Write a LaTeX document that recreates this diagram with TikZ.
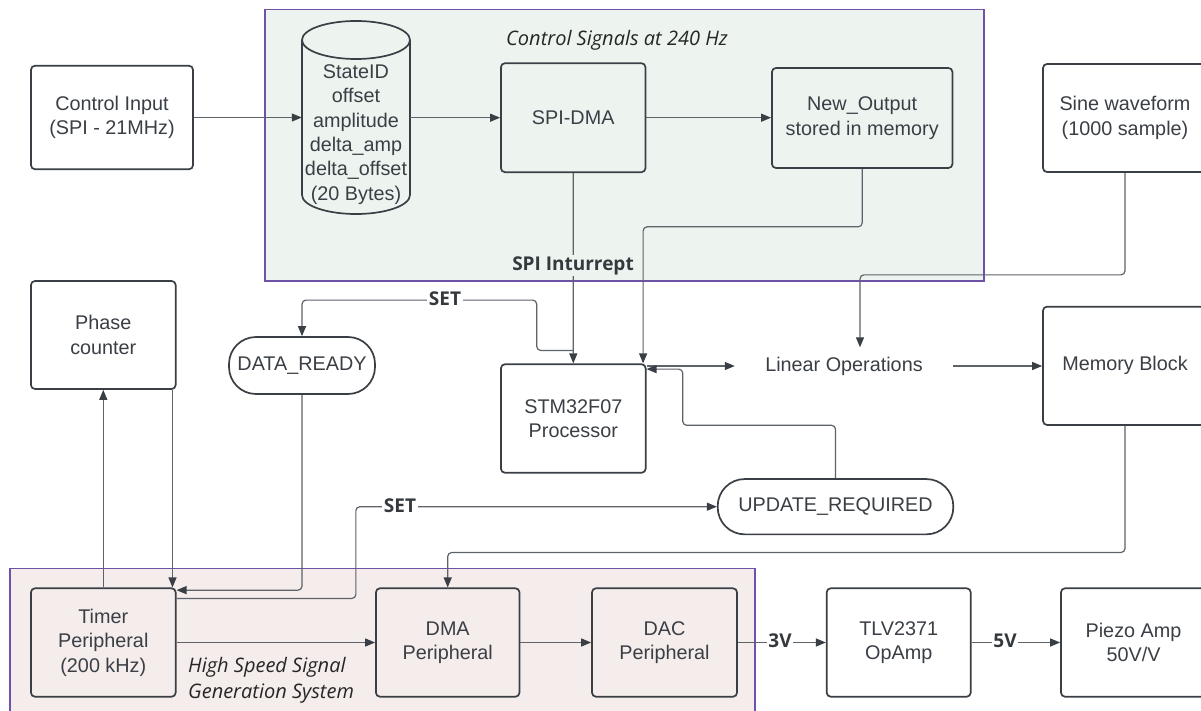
\documentclass[tikz,border=0pt]{standalone}
\usepackage{fontspec}
\setmainfont{Liberation Sans}
\newfontfamily\notefont{Open Sans}
\usetikzlibrary{arrows.meta,calc}

\definecolor{ink}{HTML}{3A3F45}
\definecolor{wirec}{HTML}{5D6369}
\definecolor{framec}{HTML}{6E52A8}
\definecolor{greenbg}{HTML}{EDF4F0}
\definecolor{pinkbg}{HTML}{F5ECEC}

\tikzset{
  block/.style={draw=ink, line width=1.7pt, rounded corners=4pt, align=center,
    text=ink, inner sep=0pt, font=\fontsize{19.8pt}{24.5pt}\selectfont},
  pill/.style={block, rounded corners=27pt},
  plain/.style={align=center, text=ink, inner sep=0pt,
    font=\fontsize{19.8pt}{24.3pt}\selectfont},
  wire/.style={draw=wirec, line width=1.2pt,
    -{Triangle[length=10pt,width=8pt,color=ink]}},
  elbow/.style={wire, rounded corners=4pt},
  tag/.style={text=ink!90!black, inner sep=1.5pt,
    font=\notefont\bfseries\fontsize{19pt}{22pt}\selectfont},
  caption/.style={text=black!85, inner sep=0pt, align=left,
    font=\notefont\itshape\fontsize{20pt}{26pt}\selectfont},
  region/.style={draw=framec, line width=1.4pt},
}

\begin{document}
\begin{tikzpicture}[x=1pt,y=-1pt]
\useasboundingbox (0,0) rectangle (1201,711);
\fill[white] (0,0) rectangle (1201,711);

% system regions
\draw[region, fill=greenbg] (265,9.3) rectangle (984,281);
\draw[region, fill=pinkbg] (10,568.3) rectangle (755,730);

\node[caption] (ctlcap) at (617,40.5) {Control Signals at 240 Hz};
\node[caption, anchor=west] (hscap) at (188,680) {High Speed Signal\\Generation System};

% control path
\node[block, minimum width=162pt, minimum height=103.5pt] (ctrl) at (112,117.5)
  {Control Input\\(SPI - 21MHz)};

% packet buffer drawn as a cylinder
\draw[ink, line width=1.7pt, fill=greenbg]
  (302,40) -- (302,195) arc[start angle=180, end angle=360, x radius=54pt, y radius=19pt]
  -- (410,40) arc[start angle=0, end angle=180, x radius=54pt, y radius=19pt] -- cycle;
\draw[ink, line width=1.7pt]
  (410,40) arc[start angle=0, end angle=-180, x radius=54pt, y radius=19pt];
\node[plain, minimum width=108pt, minimum height=194pt] (cyl) at (356,134.5)
  {StateID\\offset\\amplitude\\delta\_amp\\delta\_offset\\(20 Bytes)};

\node[block, minimum width=144.5pt, minimum height=109pt] (spidma) at (573.2,117.7) {SPI-DMA};
\node[block, minimum width=180.5pt, minimum height=100pt] (newout) at (862.2,118)
  {New\_Output\\stored in memory};
\node[block, minimum width=164pt, minimum height=108pt] (sine) at (1125,118)
  {Sine waveform\\(1000 sample)};

% processor level
\node[block, minimum width=144.7pt, minimum height=108pt] (phase) at (103.3,335)
  {Phase\\counter};
\node[pill, minimum width=146pt, minimum height=57pt] (dready) at (302,365.5) {DATA\_READY};
\node[block, minimum width=144.7pt, minimum height=108.5pt] (stm) at (573.3,418.5)
  {STM32F07\\Processor};
\node[plain, minimum width=218pt, minimum height=37pt] (linop) at (844,366) {Linear Operations};
\node[pill, minimum width=235.6pt, minimum height=55.3pt] (update) at (835.5,506.7)
  {UPDATE\_REQUIRED};
\node[block, minimum width=164pt, minimum height=118.3pt] (memory) at (1125,365.8)
  {Memory Block};

% signal generation chain
\node[block, minimum width=144.7pt, minimum height=108.4pt] (timer) at (103.3,642.5)
  {Timer\\Peripheral\\(200 kHz)};
\node[block, minimum width=143.5pt, minimum height=108.4pt] (dma) at (447.7,642.5)
  {DMA\\Peripheral};
\node[block, minimum width=145pt, minimum height=108.4pt] (dac) at (664.5,642.5)
  {DAC\\Peripheral};
\node[block, minimum width=144pt, minimum height=108.4pt] (tlv) at (898.7,642.5)
  {TLV2371\\OpAmp};
\node[block, minimum width=145pt, minimum height=108.4pt] (piezo) at (1133.5,642.5)
  {Piezo Amp\\50V/V};

% connectors
\draw[wire] (ctrl.east) -- (ctrl.east -| cyl.west);
\draw[wire] (cyl.east |- spidma.west) -- (spidma.west);
\draw[wire] (spidma.east) -- (spidma.east -| newout.west);
\draw[wire] (spidma.south) -- (stm.north);
\draw[elbow] (newout.south) -- ++(0,58) -| ([xshift=-3.4pt]stm.north east);
\draw[elbow] (sine.south) -- ++(0,102) -| ($(linop.north)+(16,0)$);
\draw[wire] (stm.north east |- linop.west) -- (linop.west);
\draw[wire] (linop.east) -- (linop.east -| memory.west);
\draw[elbow] ([yshift=13pt]stm.north) -| ++(-36.6,-50.3) -| (dready.north);
\draw[elbow] (update.north) |- (682.7,425.3) |- ([yshift=-5.7pt]stm.north east);
\draw[elbow] (dready.south) |- ([yshift=-2.7pt]timer.north east);
\draw[wire] ([xshift=-4pt]phase.south east) -- ([xshift=-4pt]timer.north east);
\draw[wire] (timer.north) -- (phase.south);
\draw[elbow] ([yshift=-11pt]timer.north east) -| ($(update.west)+(-361,0)$) -- (update.west);
\draw[elbow] (memory.south) -- ++(0,126.7) -| (dma.north);
\draw[wire] (timer.east) -- (dma.west);
\draw[wire] (dma.east) -- (dac.west);
\draw[wire] (dac.east) -- (tlv.west);
\draw[wire] (tlv.east) -- (piezo.west);

% connector labels
\node[tag, fill=greenbg] (irq) at (573,265.7) {SPI Inturrept};
\node[tag, fill=white] (set1) at (445,299) {SET};
\node[tag, fill=white] (set2) at (400,506) {SET};
\node[tag, fill=white] (v3) at (780,641) {3V};
\node[tag, fill=white] (v5) at (1005,641) {5V};
\end{tikzpicture}
\end{document}
